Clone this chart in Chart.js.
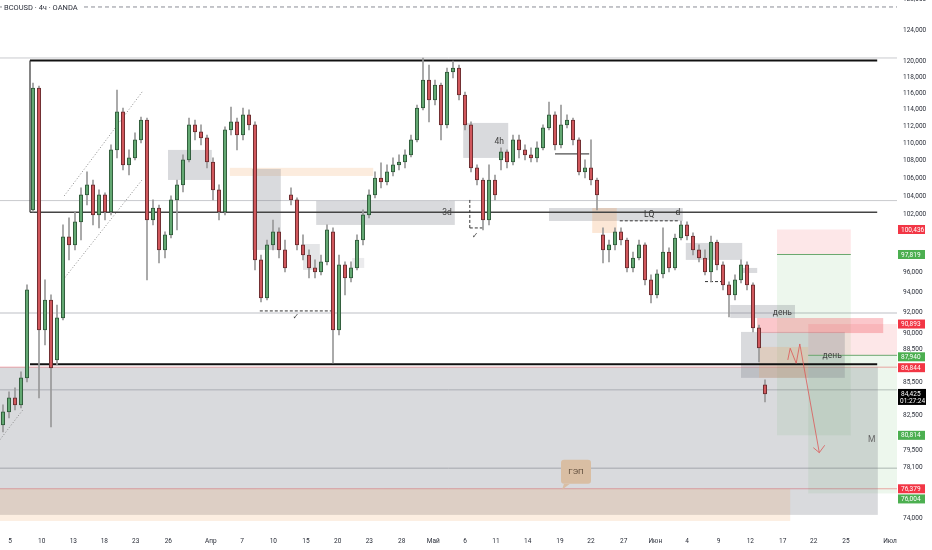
<!DOCTYPE html>
<html>
<head>
<meta charset="utf-8">
<script src="https://cdn.jsdelivr.net/npm/chart.js@4/dist/chart.umd.min.js"></script>
<style>
  body { margin: 0; background: #fff; }
  #wrap { width: 932px; height: 550px; }
</style>
</head>
<body>
<div id="wrap"><canvas id="graf"></canvas></div>
<script>
// ---- dados das velas (índice = posição da vela) ----
const opens = [81.71,82.84,84.08,83.45,85.87,102.53,116.62,90.33,93.23,87.51,
  91.48,99.65,98.81,101.24,104.17,105.28,101.99,104.17,102.31,109.24,
  113.71,107.52,108.32,110.40,112.75,101.45,102.74,98.29,99.86,103.62,
  105.28,108.09,112.16,111.34,110.63,107.86,104.72,102.31,111.57,112.52,
  110.98,113.35,112.16,97.26,93.43,98.81,100.18,98.29,104.17,103.62,
  98.81,97.77,96.44,96.04,97.06,100.18,90.33,96.75,95.43,96.44,
  99.33,101.99,104.17,106.05,105.61,106.73,107.52,107.86,108.67,110.40,
  114.19,117.61,115.16,116.99,112.16,118.61,119.11,115.76,112.16,107.19,
  105.83,101.45,105.83,108.09,109.01,107.86,110.40,109.24,108.67,108.32,
  109.47,111.81,113.35,109.82,112.16,112.75,110.40,106.73,107.19,105.83,
  99.86,98.29,98.81,100.18,99.33,96.44,97.46,98.81,95.23,93.73,
  95.83,98.08,96.44,99.54,100.92,99.75,98.29,97.46,96.04,99.12,
  96.75,94.73,93.73,95.23,96.75,94.73,90.52,85.24];

const highs = [83.45,84.61,84.97,86.42,94.73,117.24,116.87,95.23,93.73,92.74,
  100.92,101.67,102.32,104.95,106.73,105.83,104.72,104.39,109.82,116.37,
  114.19,109.24,111.22,113.11,112.99,103.62,103.07,100.18,104.06,105.83,
  108.67,112.99,112.75,112.16,110.98,108.32,105.28,111.93,114.31,112.99,
  114.19,113.95,112.52,97.77,99.33,101.45,100.60,99.33,104.95,103.84,
  99.86,98.29,97.26,97.77,100.92,100.60,97.77,97.06,97.06,99.86,
  102.53,104.72,106.73,107.75,107.52,108.32,108.67,109.24,110.98,114.55,
  120.38,119.49,117.61,117.23,119.11,120.00,119.49,116.13,112.52,107.52,
  106.05,107.52,106.39,109.47,109.24,110.98,110.98,109.82,109.47,110.17,
  112.16,114.91,113.71,114.55,113.35,112.99,110.63,108.09,110.40,106.05,
  100.60,99.33,100.60,100.60,99.54,98.08,99.33,99.02,95.73,96.24,
  100.60,98.50,99.96,101.34,101.24,100.07,98.81,98.29,99.75,99.33,
  97.06,95.03,95.73,97.26,97.06,94.93,90.80,85.69];

const lows = [81.10,82.32,83.01,83.19,85.51,102.32,84.08,88.91,81.54,87.05,
  91.28,97.26,98.29,99.33,103.07,100.92,100.60,101.45,101.99,108.32,
  106.96,106.39,108.09,110.05,95.23,100.92,96.95,97.46,99.54,100.39,
  104.50,107.86,110.40,109.82,107.19,103.62,101.45,101.99,110.98,109.24,
  110.40,111.57,96.24,93.03,93.23,98.29,97.46,96.04,103.07,98.29,
  97.26,95.43,95.43,95.73,96.75,87.24,89.85,93.73,95.03,96.24,
  98.81,101.67,103.84,104.94,105.28,106.28,106.96,107.19,108.44,110.17,
  113.95,112.52,114.55,110.40,111.81,117.86,115.16,111.57,106.73,105.28,
  100.39,100.92,103.62,106.96,107.19,107.52,108.32,108.09,107.86,107.86,
  109.24,111.57,109.24,109.47,111.81,109.82,106.39,106.05,105.28,102.53,
  96.95,97.06,98.29,98.81,96.04,96.04,97.26,94.73,92.94,93.43,
  95.43,96.04,96.24,99.33,99.33,97.77,97.06,95.73,95.03,96.24,
  94.23,91.57,93.23,94.93,94.23,90.14,87.33,83.71];

const closes = [82.84,84.08,83.45,85.87,94.23,116.62,90.33,93.23,86.78,91.48,
  99.65,98.81,101.24,104.17,105.28,101.99,104.17,102.31,109.24,113.71,
  107.52,108.32,110.40,112.75,101.45,102.74,98.29,99.86,103.62,105.28,
  108.09,112.16,111.34,110.63,107.86,104.72,102.31,111.57,112.52,110.98,
  113.35,112.16,97.26,93.43,98.81,100.18,98.29,96.44,103.62,98.81,
  97.77,96.44,96.04,97.06,100.39,90.33,96.75,95.43,96.44,99.33,
  101.99,104.17,106.05,105.61,106.73,107.52,107.86,108.67,110.40,114.19,
  117.61,115.16,116.99,112.16,118.61,119.11,115.76,112.16,107.19,105.83,
  101.45,105.83,104.17,109.01,107.86,110.40,109.24,108.67,108.32,109.47,
  111.81,113.35,109.82,112.16,112.75,110.40,106.73,107.19,105.83,104.17,
  98.29,98.81,100.18,99.33,96.44,97.46,98.81,95.23,93.73,95.83,
  98.08,96.44,99.54,100.92,99.75,98.29,97.46,96.04,99.12,96.75,
  94.73,93.73,95.23,96.75,94.73,90.52,88.63,84.43];

// escala de tempo (posição em velas) e rótulos
const timeLabels = ['5','10','13','18','23','26','Апр','7','10','15','20','23','28','Май','6',
  '11','14','19','22','27','Июн','4','9','12','17','22','25','Июл'];
const timePos = [1.17,6.45,11.72,16.88,22.12,27.55,34.62,39.83,45.05,50.5,55.78,61.05,66.45,71.72,77.0,
  82.17,87.45,92.83,98.0,103.45,108.72,114.0,119.28,124.55,129.95,135.12,140.5,147.83];

const priceTicks = [128,124,120,118,116,114,112,110,108,106,104,102,96,94,92,90,88.5,85.5,82.5,79.5,78.1,74];

// etiquetas de preço no eixo: [valor, cor, deslocamento]
const priceTags = [[100.436,'#f23645',0],[97.819,'#4caf50',0],[90.893,'#f23645',0],[87.940,'#4caf50',1.5],
  [86.844,'#f23645',0.5],[80.814,'#4caf50',0],[76.379,'#f23645',0],[76.004,'#4caf50',5.5]];
const lastPrice = 84.425;
const lastTimer = '01:27:24';

// ---- desenhos (coordenadas em velas / preço) ----
const GRAY = 'rgba(120,123,134,0.28)';
const ORANGE = 'rgba(242,160,90,0.2)';
const hLines = [
  [127.04,'#8a8d96',1,[4,3]],
  [120.38,'#c9cace',1,[]],
  [103.55,'#c9cace',1,[]],
  [91.97,'#d3d4d8',1.5,[]],
  [86.844,'rgba(242,54,69,0.45)',1,[]],
  [84.79,'#bfc0c5',1,[]],
  [78.06,'#b5b6bb',1,[]],
  [76.379,'rgba(242,54,69,0.45)',1,[]]
];
const zones = [
  [-0.5,145.8,86.84,74.30,GRAY],
  [-0.5,131.2,76.38,73.83,'rgba(240,160,90,0.18)'],
  [27.5,34.8,109.24,105.83,GRAY],
  [37.8,61.7,107.19,106.28,ORANGE],
  [41.5,46.3,107.07,98.29,GRAY],
  [52.2,75.3,103.51,100.92,GRAY],
  [50,52.8,98.91,96.24,'rgba(120,123,134,0.2)'],
  [58.2,60.2,97.46,96.44,'rgba(120,123,134,0.15)'],
  [76.7,84.2,112.40,108.32,GRAY],
  [91,113.3,102.74,101.34,GRAY],
  [98.2,102.3,102.74,100.07,'rgba(242,160,90,0.25)'],
  [113.8,123.2,99.02,97.26,GRAY],
  [123.2,125.7,96.44,95.93,GRAY],
  [121.2,132,92.74,91.47,GRAY],
  [123,140.3,90.14,85.87,GRAY],
  [126,134.2,88.72,85.87,'rgba(242,160,90,0.22)']
];
const positions = [
  [129,141.3,100.436,97.819,80.814],
  [134.2,149,90.893,87.940,76.004]
];
const segs = [
  [4.5,120.06,145.7,120.06,'#111',2,[]],
  [4.5,120.06,4.5,102.27,'#333',1.2,[]],
  [4.5,102.27,145.7,102.27,'#444',1.5,[]],
  [4.5,87.11,145.7,87.11,'#111',2,[]],
  [10.2,104.06,23.3,116.25,'#8a8a8a',1,[1,2]],
  [10,95.23,23.3,105.94,'#8a8a8a',1,[1,2]],
  [-0.5,80.45,3.3,83.01,'#8a8a8a',1,[1,2]],
  [102.8,101.36,112.8,101.36,'#333',1,[3,2]],
  [92,108.78,97.7,108.78,'#222',1,[]],
  [117,95.06,119.8,95.06,'#333',1,[3,2]],
  [42.8,92.16,55,92.16,'#333',1,[3,2]],
  [77.8,103.62,77.8,100.6,'#333',1,[3,2]],
  [77.8,100.6,80,100.6,'#333',1,[3,2]],
  [129,97.819,141.3,97.819,'#6aa86e',1,[]],
  [134.2,87.94,149,87.94,'#6aa86e',1,[]]
];
const arrowPath = [[130.8,87.51],[131.2,88.6],[132.2,87.2],[132.8,89.0],[136.05,79.35]];
const arrowHead = [[135.05,79.77],[136.05,79.35],[136.95,79.97]];
const notes = [
  ['3d',74,102.2,'#444',8.5],
  ['4h',82.7,110.17,'#444',8.5],
  ['LQ',107.7,102.05,'#333',8.5],
  ['d',112.5,102.2,'#333',8.5],
  ['день',129.9,92.0,'#444',8.5],
  ['день',138.2,87.93,'#444',8.5],
  ['M',144.8,80.42,'#666',8.5],
  ['✓',48.8,91.6,'#444',8],
  ['✓',78.7,99.8,'#444',8]
];

const FONT = 'Roboto, "DejaVu Sans", sans-serif';

const drawPlugin = {
  id: 'drawings',
  beforeDatasetsDraw(chart) {
    const { ctx, chartArea: a, scales: { x, y } } = chart;
    const X = u => x.getPixelForValue(u);
    const Y = p => y.getPixelForValue(p);
    ctx.save();
    ctx.beginPath();
    ctx.rect(a.left, a.top, a.right - a.left, a.bottom - a.top);
    ctx.clip();

    hLines.forEach(([p, c, w, d]) => {
      ctx.strokeStyle = c; ctx.lineWidth = w; ctx.setLineDash(d);
      ctx.beginPath(); ctx.moveTo(a.left, Y(p)); ctx.lineTo(a.right, Y(p)); ctx.stroke();
    });
    ctx.setLineDash([]);

    positions.forEach(([u1, u2, stop, entry, target]) => {
      ctx.fillStyle = 'rgba(242,54,69,0.12)';
      ctx.fillRect(X(u1), Y(stop), X(u2) - X(u1), Y(entry) - Y(stop));
      ctx.fillStyle = 'rgba(76,175,80,0.1)';
      ctx.fillRect(X(u1), Y(entry), X(u2) - X(u1), Y(target) - Y(entry));
    });

    zones.forEach(([u1, u2, p1, p2, c]) => {
      ctx.fillStyle = c;
      ctx.fillRect(X(u1), Y(p1), X(u2) - X(u1), Y(p2) - Y(p1));
    });
    // caixa vermelha do stop
    ctx.fillStyle = 'rgba(242,54,69,0.28)';
    ctx.fillRect(X(125.7), Y(91.47), X(146.7) - X(125.7), Y(90.03) - Y(91.47));

    segs.forEach(([u1, p1, u2, p2, c, w, d]) => {
      ctx.strokeStyle = c; ctx.lineWidth = w; ctx.setLineDash(d);
      ctx.beginPath(); ctx.moveTo(X(u1), Y(p1)); ctx.lineTo(X(u2), Y(p2)); ctx.stroke();
    });
    ctx.setLineDash([]);
    ctx.restore();
  },
  afterDatasetsDraw(chart) {
    const { ctx, scales: { x, y } } = chart;
    const X = u => x.getPixelForValue(u);
    const Y = p => y.getPixelForValue(p);
    ctx.save();
    // seta vermelha
    ctx.strokeStyle = 'rgba(222,80,80,0.75)';
    ctx.lineWidth = 1;
    ctx.beginPath();
    arrowPath.forEach(([u, p], i) => i ? ctx.lineTo(X(u), Y(p)) : ctx.moveTo(X(u), Y(p)));
    ctx.stroke();
    ctx.beginPath();
    arrowHead.forEach(([u, p], i) => i ? ctx.lineTo(X(u), Y(p)) : ctx.moveTo(X(u), Y(p)));
    ctx.stroke();

    ctx.textAlign = 'center';
    ctx.textBaseline = 'middle';
    notes.forEach(([t, u, p, c, s]) => {
      ctx.fillStyle = c; ctx.font = s + 'px ' + FONT;
      ctx.fillText(t, X(u), Y(p));
    });

    // etiqueta ГЭП
    const x1 = X(93), x2 = X(98), y1 = Y(78.75), y2 = Y(76.78);
    ctx.fillStyle = '#d9bea3';
    ctx.beginPath();
    ctx.roundRect(x1, y1, x2 - x1, y2 - y1, 3);
    ctx.fill();
    ctx.beginPath();
    ctx.moveTo(x1 + 3, y2); ctx.lineTo(x1 + 9, y2); ctx.lineTo(x1 + 1, y2 + 6); ctx.closePath();
    ctx.fill();
    ctx.fillStyle = '#5d4a3a';
    ctx.font = '8px ' + FONT;
    ctx.fillText('ГЭП', (x1 + x2) / 2, (y1 + y2) / 2);
    ctx.restore();
  },
  afterDraw(chart) {
    const { ctx, chartArea: a, scales: { y } } = chart;
    ctx.save();
    // título
    ctx.fillStyle = '#fff';
    ctx.fillRect(2, 1, 81, 13);
    ctx.fillStyle = '#2a2e39';
    ctx.font = '7.5px ' + FONT;
    ctx.textBaseline = 'middle';
    ctx.textAlign = 'left';
    ctx.fillText('BCOUSD · 4ч · OANDA', 4, 8);

    // etiquetas de preço
    const bx = a.right + 1;
    ctx.font = '6.5px ' + FONT;
    priceTags.forEach(([v, c, off]) => {
      const yy = y.getPixelForValue(v) + off;
      ctx.fillStyle = c;
      ctx.fillRect(bx, yy - 4.5, 27, 9);
      ctx.fillStyle = '#fff';
      ctx.fillText(v.toFixed(3).replace('.', ','), bx + 3, yy + 0.5);
    });
    const yl = y.getPixelForValue(lastPrice);
    ctx.fillStyle = '#000';
    ctx.fillRect(bx, yl - 5, 28, 16);
    ctx.fillStyle = '#fff';
    ctx.fillText(lastPrice.toFixed(3).replace('.', ','), bx + 3, yl);
    ctx.fillText(lastTimer, bx + 2, yl + 7.5);
    ctx.restore();
  }
};

const candleData = closes.map((c, i) => ({ x: i, y: [opens[i], c] }));
const wickData = highs.map((h, i) => ({ x: i, y: [lows[i], h] }));
const isUp = closes.map((c, i) => c >= opens[i]);

new Chart(document.getElementById('graf'), {
  type: 'bar',
  data: {
    datasets: [
      {
        label: 'corpo',
        data: candleData,
        backgroundColor: isUp.map(u => u ? '#63a872' : '#d0575c'),
        borderColor: isUp.map(u => u ? '#2f5a3a' : '#6a2c2f'),
        borderWidth: 1,
        borderSkipped: false,
        barThickness: 3.5,
        minBarLength: 1,
        grouped: false,
        order: 1
      },
      {
        label: 'pavio',
        data: wickData,
        backgroundColor: '#999',
        borderWidth: 0,
        barThickness: 1,
        grouped: false,
        order: 2
      }
    ]
  },
  options: {
    responsive: true,
    maintainAspectRatio: false,
    animation: false,
    layout: { padding: 0, autoPadding: false },
    plugins: { legend: { display: false }, tooltip: { enabled: false } },
    scales: {
      x: {
        type: 'linear',
        offset: false,
        min: -0.5,
        max: 149,
        grid: { display: false, drawTicks: false, offset: false },
        border: { display: false },
        afterBuildTicks(scale) { scale.ticks = timePos.map(v => ({ value: v })); },
        afterFit(scale) { scale.height = 22; scale.paddingLeft = 0; scale.paddingRight = 0; },
        ticks: {
          autoSkip: false,
          maxRotation: 0,
          padding: 9,
          color: '#2a2e39',
          font: { size: 6.5, family: FONT },
          callback: (v, i) => timeLabels[i]
        }
      },
      y: {
        type: 'logarithmic',
        position: 'right',
        min: 73.28,
        max: 127.98,
        bounds: 'data',
        grid: { display: false, drawTicks: false },
        border: { display: false },
        afterBuildTicks(scale) { scale.ticks = priceTicks.map(v => ({ value: v })); },
        afterFit(scale) { scale.width = 35; scale.paddingTop = 0; scale.paddingBottom = 0; },
        ticks: {
          autoSkip: false,
          padding: 6,
          color: '#2a2e39',
          font: { size: 6.5, family: FONT },
          callback: v => Number(v).toFixed(3).replace('.', ',')
        }
      }
    }
  },
  plugins: [drawPlugin]
});
</script>
</body>
</html>
